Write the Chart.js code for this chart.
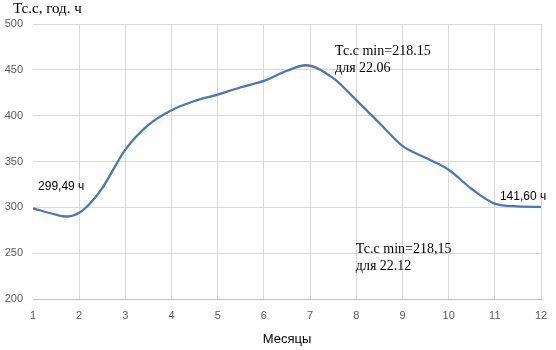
<!DOCTYPE html>
<html>
<head>
<meta charset="utf-8">
<script src="https://cdn.jsdelivr.net/npm/chart.js@4.4.0/dist/chart.umd.min.js"></script>
<style>
  body { margin: 0; background: #fff; }
</style>
</head>
<body>
<canvas id="chart" width="556" height="350"></canvas>
<script>
// month position (1..12) and hours
const months = [1, 1.5, 1.75, 2, 2.25, 2.5, 3, 3.5, 4, 4.5, 5, 5.5, 6, 6.5, 6.9, 7.5, 8, 8.5, 9, 9.5, 10, 10.5, 11, 11.5, 12];
const hours = [299, 292, 290, 294, 305, 321, 363, 390, 406, 416, 423, 431, 438, 449, 455, 441, 417, 392, 367, 354, 341, 320, 304, 301, 300.5];

const yTicks = [200, 250, 300, 350, 400, 450, 500];
const xTicks = [1, 2, 3, 4, 5, 6, 7, 8, 9, 10, 11, 12];

// text notes placed in data units
const notes = [
  { text: "299,49 ч", x: 1.11, y: 323, font: "12px 'Liberation Sans'" },
  { text: "Тс.с min=218.15", x: 7.54, y: 470, font: "14px 'Liberation Serif'" },
  { text: "для 22.06", x: 7.54, y: 452, font: "14px 'Liberation Serif'" },
  { text: "141,60 ч", x: 11.11, y: 312, font: "12px 'Liberation Sans'" },
  { text: "Тс.с min=218,15", x: 7.99, y: 254, font: "14px 'Liberation Serif'" },
  { text: "для 22.12", x: 7.99, y: 236, font: "14px 'Liberation Serif'" },
];

const notesPlugin = {
  id: "notes",
  afterDatasetsDraw(chart) {
    const ctx = chart.ctx;
    const xs = chart.scales.x, ys = chart.scales.y;
    ctx.save();
    ctx.fillStyle = "#000";
    ctx.textBaseline = "middle";
    ctx.textAlign = "left";
    notes.forEach(n => {
      ctx.font = n.font;
      ctx.fillText(n.text, xs.getPixelForValue(n.x), ys.getPixelForValue(n.y));
    });
    // axis caption top-left
    ctx.font = "15px 'Liberation Serif'";
    ctx.fillText("Тс.с, год. ч", 13, 9);
    ctx.restore();
  }
};

const tickFont = { family: "'Liberation Sans'", size: 11 };

new Chart(document.getElementById("chart"), {
  type: "line",
  data: {
    datasets: [{
      data: months.map((m, i) => ({ x: m, y: hours[i] })),
      borderColor: "#4A76BD",
      borderWidth: 2.3,
      pointRadius: 0,
      cubicInterpolationMode: "monotone",
      fill: false,
    }]
  },
  options: {
    responsive: false,
    animation: false,
    layout: { padding: { left: 0, right: 15, top: 24, bottom: 0 } },
    plugins: { legend: { display: false }, tooltip: { enabled: false } },
    scales: {
      x: {
        type: "linear",
        min: 1,
        max: 12,
        afterBuildTicks: s => { s.ticks = xTicks.map(v => ({ value: v })); },
        afterFit: s => { s.height = 51; s.paddingRight = 0; s.paddingLeft = 0; },
        ticks: { color: "#595959", font: tickFont, padding: 10 },
        grid: {
          color: c => (c.index === 0 ? "rgba(0,0,0,0)" : "#d9d9d9"),
          drawTicks: false,
        },
        border: { display: true, color: "#bfbfbf" },
        title: {
          display: true,
          text: "Месяцы",
          color: "#000",
          font: { family: "'Liberation Sans'", size: 13 },
          padding: { top: 0, bottom: 3 },
        },
      },
      y: {
        min: 200,
        max: 500,
        afterBuildTicks: s => { s.ticks = yTicks.map(v => ({ value: v })); },
        afterFit: s => { s.width = 33; },
        ticks: { color: "#595959", font: tickFont, padding: 10 },
        grid: { color: "#d9d9d9", drawTicks: false },
        border: { display: false },
      },
    },
  },
  plugins: [notesPlugin],
});
</script>
</body>
</html>
